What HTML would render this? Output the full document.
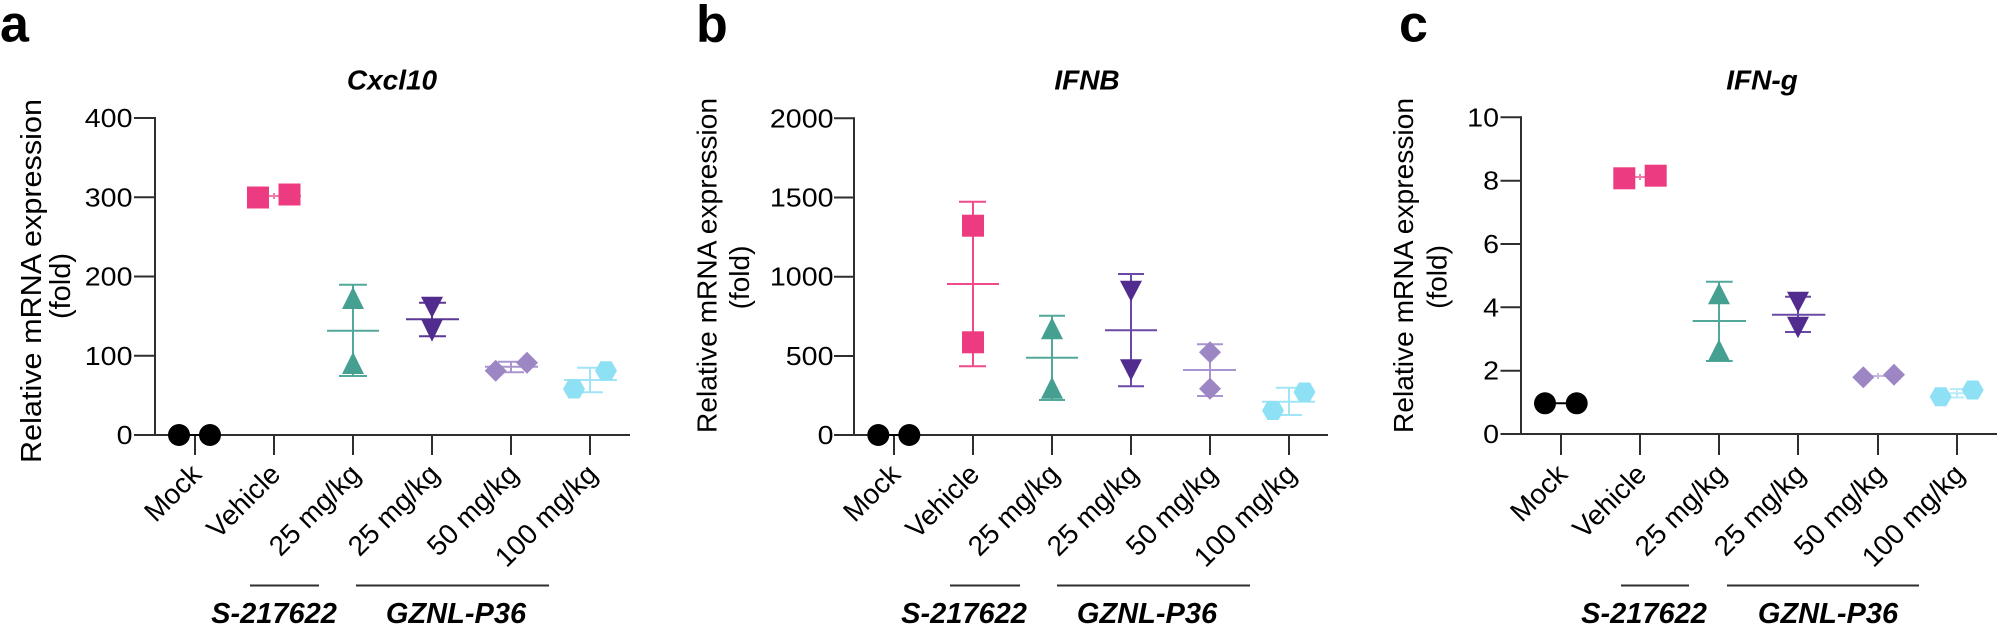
<!DOCTYPE html>
<html>
<head>
<meta charset="utf-8">
<style>
  html,body{margin:0;padding:0;background:#fff;}
  svg{display:block;}
  text{font-family:"Liberation Sans", Arial, Helvetica, sans-serif; fill:#000;}
</style>
</head>
<body>
<svg width="2000" height="628" viewBox="0 0 2000 628" xmlns="http://www.w3.org/2000/svg">
  <rect width="2000" height="628" fill="#fff"/>

  <!-- Panel letters -->
  <text x="0" y="41.5" font-size="52" font-weight="bold">a</text>
  <text x="696" y="41.5" font-size="52" font-weight="bold">b</text>
  <text x="1399" y="41.5" font-size="52" font-weight="bold">c</text>

  <!-- Titles -->
  <text x="392" y="89.5" font-size="28" font-weight="bold" font-style="italic" text-anchor="middle">Cxcl10</text>
  <text x="1087" y="89.5" font-size="28" font-weight="bold" font-style="italic" text-anchor="middle">IFNB</text>
  <text x="1762" y="89.5" font-size="28" font-weight="bold" font-style="italic" text-anchor="middle">IFN-g</text>

  <!-- Y axis titles -->
  <text transform="translate(41,281) rotate(-90)" font-size="29" text-anchor="middle" textLength="364" lengthAdjust="spacingAndGlyphs">Relative mRNA expression</text>
  <text transform="translate(70,286) rotate(-90)" font-size="29" text-anchor="middle">(fold)</text>

  <text transform="translate(716.5,265.5) rotate(-90)" font-size="28" text-anchor="middle" textLength="335" lengthAdjust="spacingAndGlyphs">Relative mRNA expression</text>
  <text transform="translate(749,277.5) rotate(-90)" font-size="28" text-anchor="middle">(fold)</text>

  <text transform="translate(1413,265.5) rotate(-90)" font-size="28" text-anchor="middle" textLength="335" lengthAdjust="spacingAndGlyphs">Relative mRNA expression</text>
  <text transform="translate(1446.5,277) rotate(-90)" font-size="28" text-anchor="middle">(fold)</text>

  <!-- ================= PANEL A ================= -->
  <g stroke="#2e2e2e" stroke-width="2" fill="none">
    <line x1="155" y1="117" x2="155" y2="435"/>
    <line x1="134" y1="435" x2="630" y2="435"/>
    <line x1="134" y1="118" x2="155" y2="118"/>
    <line x1="134" y1="197.25" x2="155" y2="197.25"/>
    <line x1="134" y1="276.5" x2="155" y2="276.5"/>
    <line x1="134" y1="355.75" x2="155" y2="355.75"/>
    <line x1="195" y1="435" x2="195" y2="455"/>
    <line x1="274" y1="435" x2="274" y2="455"/>
    <line x1="353" y1="435" x2="353" y2="455"/>
    <line x1="432" y1="435" x2="432" y2="455"/>
    <line x1="511" y1="435" x2="511" y2="455"/>
    <line x1="590" y1="435" x2="590" y2="455"/>
  </g>
  <g font-size="26" text-anchor="end">
    <text transform="translate(132.5,127) scale(1.1,1)">400</text>
    <text transform="translate(132.5,206.25) scale(1.1,1)">300</text>
    <text transform="translate(132.5,285.5) scale(1.1,1)">200</text>
    <text transform="translate(132.5,364.75) scale(1.1,1)">100</text>
    <text transform="translate(132.5,444) scale(1.1,1)">0</text>
  </g>
  <g font-size="28" text-anchor="end">
    <text transform="translate(203,476) rotate(-45)">Mock</text>
    <text transform="translate(282,476) rotate(-45)">Vehicle</text>
    <text transform="translate(362,476) rotate(-45)">25 mg/kg</text>
    <text transform="translate(441,476) rotate(-45)">25 mg/kg</text>
    <text transform="translate(520,476) rotate(-45)">50 mg/kg</text>
    <text transform="translate(599,476) rotate(-45)">100 mg/kg</text>
  </g>
  <g stroke="#2e2e2e" stroke-width="2">
    <line x1="250" y1="585.5" x2="319" y2="585.5"/>
    <line x1="356" y1="585.5" x2="549" y2="585.5"/>
  </g>
  <g font-size="29" font-weight="bold" font-style="italic" text-anchor="middle">
    <text x="274" y="623">S-217622</text>
    <text x="456" y="623">GZNL-P36</text>
  </g>
  <!-- data A -->
  <g stroke-width="2" fill="none">
    <line x1="179" y1="435" x2="210" y2="435" stroke="#000"/>
    <g stroke="#f27aa8"><line x1="247" y1="196" x2="301" y2="196"/><line x1="274" y1="193" x2="274" y2="199"/></g>
    <g stroke="#52a89a">
      <line x1="353" y1="284.7" x2="353" y2="376"/>
      <line x1="339" y1="284.7" x2="367" y2="284.7"/>
      <line x1="339" y1="376" x2="367" y2="376"/>
      <line x1="327" y1="330.7" x2="379" y2="330.7"/>
    </g>
    <g stroke="#5a3996">
      <line x1="432" y1="302.7" x2="432" y2="336.3"/>
      <line x1="419" y1="302.7" x2="446" y2="302.7"/>
      <line x1="419" y1="336.3" x2="446" y2="336.3"/>
      <line x1="406" y1="319.3" x2="459" y2="319.3"/>
    </g>
    <g stroke="#a995cf">
      <line x1="511" y1="361.7" x2="511" y2="372.3"/>
      <line x1="498" y1="361.7" x2="524" y2="361.7"/>
      <line x1="498" y1="372.3" x2="524" y2="372.3"/>
      <line x1="485" y1="366.7" x2="538" y2="366.7"/>
    </g>
    <g stroke="#9fe5f6">
      <line x1="590" y1="367.7" x2="590" y2="392.3"/>
      <line x1="577" y1="367.7" x2="603" y2="367.7"/>
      <line x1="577" y1="392.3" x2="603" y2="392.3"/>
      <line x1="564" y1="380" x2="617" y2="380"/>
    </g>
  </g>
  <g>
    <circle cx="179" cy="435" r="11" fill="#000"/>
    <circle cx="210" cy="435" r="11" fill="#000"/>
    <rect x="247" y="186.5" width="22" height="22" fill="#ec3b81"/>
    <rect x="278.5" y="183.5" width="22" height="22" fill="#ec3b81"/>
    <polygon points="353,286.7 342,309 364,309" fill="#45a092"/>
    <polygon points="353,352 342,374 364,374" fill="#45a092"/>
    <polygon points="421,296.7 443,296.7 432,318" fill="#512b8e"/>
    <polygon points="421,319 443,319 432,341.7" fill="#512b8e"/>
    <polygon points="495.7,359.7 506.7,370.7 495.7,381.7 484.7,370.7" fill="#9c86c3"/>
    <polygon points="527,351.7 538,362.7 527,373.7 516,362.7" fill="#9c86c3"/>
    <polygon points="563,389 568.5,379.5 579.5,379.5 585,389 579.5,398.5 568.5,398.5" fill="#8ee0f4"/>
    <polygon points="595,370.7 600.5,361.2 611.5,361.2 617,370.7 611.5,380.2 600.5,380.2" fill="#8ee0f4"/>
  </g>

  <!-- ================= PANEL B ================= -->
  <g stroke="#2e2e2e" stroke-width="2" fill="none">
    <line x1="854" y1="117.3" x2="854" y2="435"/>
    <line x1="834" y1="435" x2="1328" y2="435"/>
    <line x1="834" y1="118.3" x2="854" y2="118.3"/>
    <line x1="834" y1="197.5" x2="854" y2="197.5"/>
    <line x1="834" y1="276.7" x2="854" y2="276.7"/>
    <line x1="834" y1="356" x2="854" y2="356"/>
    <line x1="894" y1="435" x2="894" y2="455"/>
    <line x1="973" y1="435" x2="973" y2="455"/>
    <line x1="1052" y1="435" x2="1052" y2="455"/>
    <line x1="1131" y1="435" x2="1131" y2="455"/>
    <line x1="1210" y1="435" x2="1210" y2="455"/>
    <line x1="1289" y1="435" x2="1289" y2="455"/>
  </g>
  <g font-size="26" text-anchor="end">
    <text transform="translate(833.5,127.3) scale(1.1,1)">2000</text>
    <text transform="translate(833.5,206.5) scale(1.1,1)">1500</text>
    <text transform="translate(833.5,285.7) scale(1.1,1)">1000</text>
    <text transform="translate(833.5,365) scale(1.1,1)">500</text>
    <text transform="translate(833.5,444) scale(1.1,1)">0</text>
  </g>
  <g font-size="28" text-anchor="end">
    <text transform="translate(902,476) rotate(-45)">Mock</text>
    <text transform="translate(981,476) rotate(-45)">Vehicle</text>
    <text transform="translate(1061,476) rotate(-45)">25 mg/kg</text>
    <text transform="translate(1140,476) rotate(-45)">25 mg/kg</text>
    <text transform="translate(1219,476) rotate(-45)">50 mg/kg</text>
    <text transform="translate(1298,476) rotate(-45)">100 mg/kg</text>
  </g>
  <g stroke="#2e2e2e" stroke-width="2">
    <line x1="950" y1="585.5" x2="1020" y2="585.5"/>
    <line x1="1057" y1="585.5" x2="1250" y2="585.5"/>
  </g>
  <g font-size="29" font-weight="bold" font-style="italic" text-anchor="middle">
    <text x="964" y="623">S-217622</text>
    <text x="1147" y="623">GZNL-P36</text>
  </g>
  <!-- data B -->
  <g stroke-width="2" fill="none">
    <line x1="878" y1="435" x2="909" y2="435" stroke="#000"/>
    <g stroke="#ef4a8a">
      <line x1="973" y1="201.7" x2="973" y2="366.3"/>
      <line x1="959" y1="201.7" x2="986" y2="201.7"/>
      <line x1="959" y1="366.3" x2="986" y2="366.3"/>
      <line x1="947" y1="284" x2="999" y2="284"/>
    </g>
    <g stroke="#52a89a">
      <line x1="1052" y1="315.7" x2="1052" y2="400"/>
      <line x1="1039" y1="315.7" x2="1065" y2="315.7"/>
      <line x1="1039" y1="400" x2="1065" y2="400"/>
      <line x1="1026" y1="357.7" x2="1078" y2="357.7"/>
    </g>
    <g stroke="#6a4aa6">
      <line x1="1131" y1="274" x2="1131" y2="386.3"/>
      <line x1="1118" y1="274" x2="1144" y2="274"/>
      <line x1="1118" y1="386.3" x2="1144" y2="386.3"/>
      <line x1="1105" y1="330.3" x2="1157" y2="330.3"/>
    </g>
    <g stroke="#a995cf">
      <line x1="1210" y1="344.3" x2="1210" y2="396"/>
      <line x1="1197" y1="344.3" x2="1223" y2="344.3"/>
      <line x1="1197" y1="396" x2="1223" y2="396"/>
      <line x1="1183" y1="370" x2="1236" y2="370"/>
    </g>
    <g stroke="#9fe5f6">
      <line x1="1289" y1="387.7" x2="1289" y2="415"/>
      <line x1="1276" y1="387.7" x2="1302" y2="387.7"/>
      <line x1="1276" y1="415" x2="1302" y2="415"/>
      <line x1="1262" y1="401.7" x2="1315" y2="401.7"/>
    </g>
  </g>
  <g>
    <circle cx="878.3" cy="435" r="11" fill="#000"/>
    <circle cx="909.3" cy="435" r="11" fill="#000"/>
    <rect x="962" y="214.7" width="22" height="22" fill="#ec3b81"/>
    <rect x="962" y="331.3" width="22" height="22" fill="#ec3b81"/>
    <polygon points="1052,317.3 1041,339.3 1063,339.3" fill="#45a092"/>
    <polygon points="1052,376.7 1041,398.7 1063,398.7" fill="#45a092"/>
    <polygon points="1120,280.7 1142,280.7 1131,301.7" fill="#512b8e"/>
    <polygon points="1120,359.3 1142,359.3 1131,380.7" fill="#512b8e"/>
    <polygon points="1210,341.3 1221,352.3 1210,363.3 1199,352.3" fill="#9c86c3"/>
    <polygon points="1210,377.7 1221,388.7 1210,399.7 1199,388.7" fill="#9c86c3"/>
    <polygon points="1262,410.5 1267.5,401 1278.5,401 1284,410.5 1278.5,420 1267.5,420" fill="#8ee0f4"/>
    <polygon points="1293.5,392 1299,382.5 1310,382.5 1315.5,392 1310,401.5 1299,401.5" fill="#8ee0f4"/>
  </g>

  <!-- ================= PANEL C ================= -->
  <g stroke="#2e2e2e" stroke-width="2" fill="none">
    <line x1="1521" y1="116.3" x2="1521" y2="434"/>
    <line x1="1500.5" y1="434" x2="1997" y2="434"/>
    <line x1="1500.5" y1="117.3" x2="1521" y2="117.3"/>
    <line x1="1500.5" y1="180.7" x2="1521" y2="180.7"/>
    <line x1="1500.5" y1="244" x2="1521" y2="244"/>
    <line x1="1500.5" y1="307.3" x2="1521" y2="307.3"/>
    <line x1="1500.5" y1="370.7" x2="1521" y2="370.7"/>
    <line x1="1561" y1="434" x2="1561" y2="455"/>
    <line x1="1640" y1="434" x2="1640" y2="455"/>
    <line x1="1719" y1="434" x2="1719" y2="455"/>
    <line x1="1798" y1="434" x2="1798" y2="455"/>
    <line x1="1878" y1="434" x2="1878" y2="455"/>
    <line x1="1957" y1="434" x2="1957" y2="455"/>
  </g>
  <g font-size="26" text-anchor="end">
    <text transform="translate(1499,126.3) scale(1.1,1)">10</text>
    <text transform="translate(1499,189.7) scale(1.1,1)">8</text>
    <text transform="translate(1499,253) scale(1.1,1)">6</text>
    <text transform="translate(1499,316.3) scale(1.1,1)">4</text>
    <text transform="translate(1499,379.7) scale(1.1,1)">2</text>
    <text transform="translate(1499,443) scale(1.1,1)">0</text>
  </g>
  <g font-size="28" text-anchor="end">
    <text transform="translate(1569,476) rotate(-45)">Mock</text>
    <text transform="translate(1648,476) rotate(-45)">Vehicle</text>
    <text transform="translate(1728,476) rotate(-45)">25 mg/kg</text>
    <text transform="translate(1807,476) rotate(-45)">25 mg/kg</text>
    <text transform="translate(1887,476) rotate(-45)">50 mg/kg</text>
    <text transform="translate(1966,476) rotate(-45)">100 mg/kg</text>
  </g>
  <g stroke="#2e2e2e" stroke-width="2">
    <line x1="1621" y1="585.5" x2="1689" y2="585.5"/>
    <line x1="1727" y1="585.5" x2="1919" y2="585.5"/>
  </g>
  <g font-size="29" font-weight="bold" font-style="italic" text-anchor="middle">
    <text x="1644" y="623">S-217622</text>
    <text x="1828" y="623">GZNL-P36</text>
  </g>
  <!-- data C -->
  <g stroke-width="2" fill="none">
    <line x1="1545" y1="403.3" x2="1577" y2="403.3" stroke="#000"/>
    <g stroke="#f27aa8"><line x1="1624" y1="177" x2="1656" y2="177"/><line x1="1640" y1="174" x2="1640" y2="180"/></g>
    <g stroke="#52a89a">
      <line x1="1719" y1="281.7" x2="1719" y2="361"/>
      <line x1="1706" y1="281.7" x2="1732.7" y2="281.7"/>
      <line x1="1706" y1="361" x2="1732.7" y2="361"/>
      <line x1="1692.7" y1="321" x2="1746" y2="321"/>
    </g>
    <g stroke="#6a4aa6">
      <line x1="1798" y1="296.7" x2="1798" y2="332"/>
      <line x1="1785" y1="296.7" x2="1811" y2="296.7"/>
      <line x1="1785" y1="332" x2="1811" y2="332"/>
      <line x1="1772" y1="314.7" x2="1825.3" y2="314.7"/>
    </g>
    <g stroke="#c7b8e3">
      <line x1="1866" y1="376" x2="1890" y2="376"/>
      <line x1="1878" y1="373" x2="1878" y2="379"/>
    </g>
    <g stroke="#b8ecf8">
      <line x1="1944" y1="393.3" x2="1970" y2="393.3"/>
      <line x1="1957" y1="389" x2="1957" y2="397.5"/>
      <line x1="1950" y1="389" x2="1964" y2="389"/>
      <line x1="1950" y1="397.5" x2="1964" y2="397.5"/>
    </g>
  </g>
  <g>
    <circle cx="1545" cy="403.3" r="11" fill="#000"/>
    <circle cx="1576.7" cy="403.3" r="11" fill="#000"/>
    <rect x="1613.3" y="167.3" width="22" height="22" fill="#ec3b81"/>
    <rect x="1644.7" y="164.7" width="22" height="22" fill="#ec3b81"/>
    <polygon points="1719,282.7 1708,304.3 1730,304.3" fill="#45a092"/>
    <polygon points="1719,339.3 1708,361 1730,361" fill="#45a092"/>
    <polygon points="1787,291.7 1809,291.7 1798,312.7" fill="#512b8e"/>
    <polygon points="1787,316.7 1809,316.7 1798,338.3" fill="#512b8e"/>
    <polygon points="1863.3,366.3 1874.3,377.3 1863.3,388.3 1852.3,377.3" fill="#9c86c3"/>
    <polygon points="1894,363.7 1905,374.7 1894,385.7 1883,374.7" fill="#9c86c3"/>
    <polygon points="1929.7,396.7 1935.2,387.2 1946.2,387.2 1951.7,396.7 1946.2,406.2 1935.2,406.2" fill="#8ee0f4"/>
    <polygon points="1961.7,390 1967.2,380.5 1978.2,380.5 1983.7,390 1978.2,399.5 1967.2,399.5" fill="#8ee0f4"/>
  </g>
</svg>
</body>
</html>
